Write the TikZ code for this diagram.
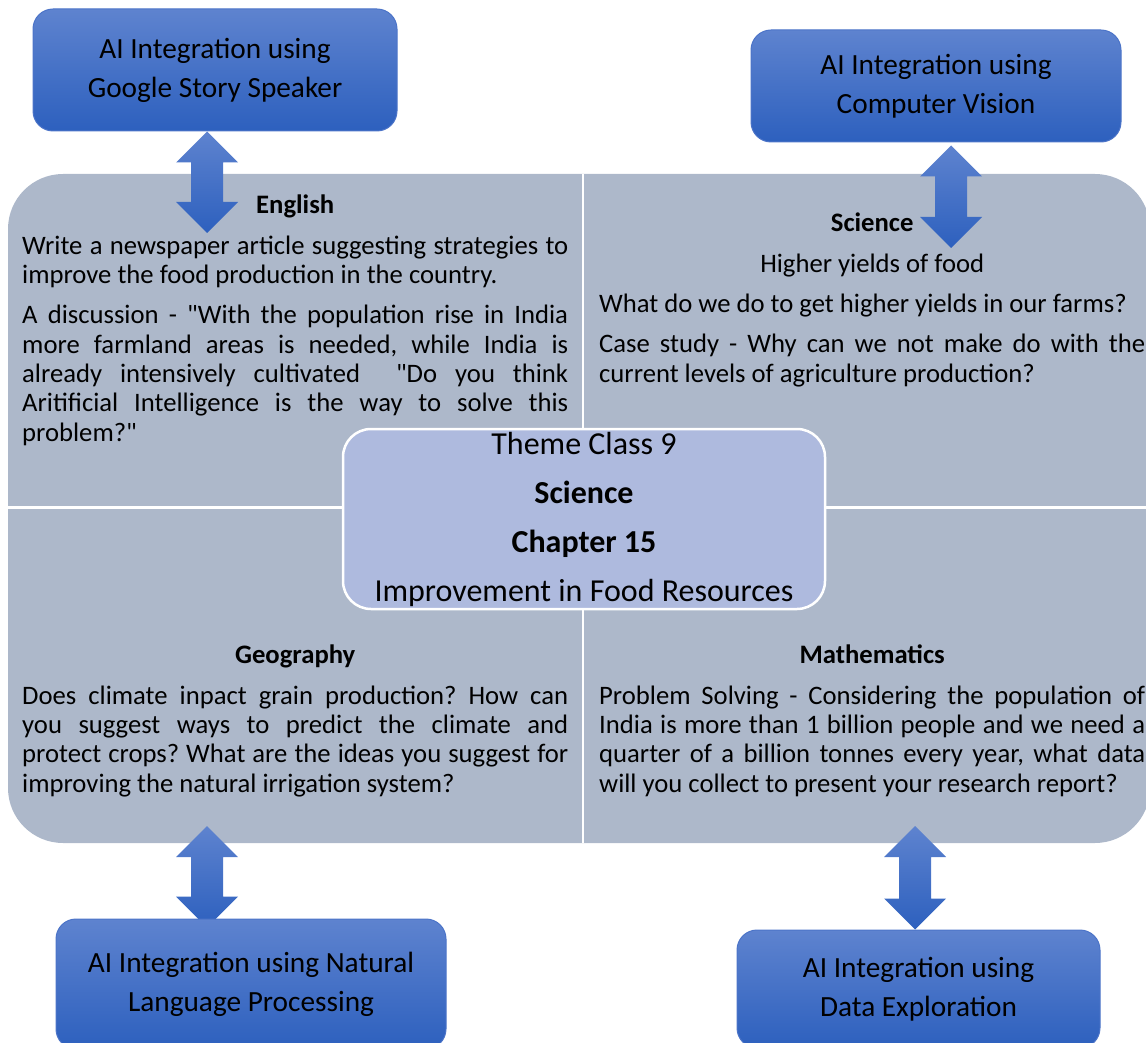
\documentclass[tikz,border=0pt]{standalone}
\usepackage{fontspec}
\setmainfont{Carlito}
\usetikzlibrary{calc}
\pgfdeclarelayer{back}
\pgfsetlayers{back,main}

\definecolor{quadgrey}{RGB}{173,184,202}
\definecolor{themefill}{RGB}{174,186,222}
\definecolor{bluetop}{RGB}{94,131,207}
\definecolor{bluebot}{RGB}{45,96,190}
\definecolor{blueedge}{RGB}{76,116,200}

\newcommand{\subjectsetup}{\fontsize{26.67}{29.3}\selectfont\setlength{\parskip}{11pt}\frenchspacing\tolerance=10000 \hyphenpenalty=10000 }
\newcommand{\heading}[1]{{\centering\textbf{#1}\par}}
\newcommand{\q}{\textquotedbl}

\newcommand{\twowayarrow}[2]{%
  \shade[updown] let \p1=(#1), \p2=(#2) in
    (\x1,\y1) -- (\x1+31pt,\y1-31pt) -- (\x1+16pt,\y1-31pt) -- (\x1+16pt,\y2+31pt)
    -- (\x1+31pt,\y2+31pt) -- (\x1,\y2) -- (\x1-31pt,\y2+31pt) -- (\x1-16pt,\y2+31pt)
    -- (\x1-16pt,\y1-31pt) -- (\x1-31pt,\y1-31pt) -- cycle;}

\tikzset{
  aibox/.style={rectangle, rounded corners=20pt, top color=bluetop, bottom color=bluebot,
    draw=blueedge, line width=1pt, align=center, inner sep=0pt,
    font=\fontsize{29.3}{39}\selectfont},
  theme/.style={rectangle, rounded corners=28pt, fill=themefill, draw=white, line width=2.5pt,
    minimum width=482pt, minimum height=180pt, inner sep=0pt, align=center,
    font=\fontsize{32}{49}\selectfont},
  subject/.style={anchor=north west, text width=546pt, align=justify, inner sep=0pt,
    execute at begin node=\subjectsetup},
  divider/.style={white, line width=2.5pt},
  updown/.style={top color=bluetop, bottom color=bluebot}
}

\begin{document}
\begin{tikzpicture}[x=1pt,y=-1pt]
  \useasboundingbox (0,0) rectangle (1146,1043);
  \clip (0,0) rectangle (1146,1043);

  %AI boxes
  \node[aibox, minimum width=364pt, minimum height=122pt] (storybox) at (215,70)
    {AI Integration using\\Google Story Speaker};
  \node[aibox, minimum width=370pt, minimum height=112pt] (visionbox) at (936,86)
    {AI Integration using\\Computer Vision};
  \node[aibox, minimum width=390pt, minimum height=130pt] (nlpbox) at (251,984)
    {AI Integration using Natural\\Language Processing};
  \node[aibox, minimum width=363pt, minimum height=118pt] (databox) at (918.5,989)
    {AI Integration using\\Data Exploration};

  %Theme in the middle
  \node[theme] (theme) at (584,519)
    {Theme Class 9\\\textbf{Science}\\\textbf{Chapter 15}\\Improvement in Food Resources};

  %Subjects
  \node[subject] (english) at (22,195) {\heading{English}
    Write a newspaper article suggesting strategies to\linebreak improve the food production in the country.\par
    A discussion - \q With the population rise in India\linebreak more farmland areas is needed, while India is\linebreak
    already intensively cultivated \ \q Do you think\linebreak Aritificial Intelligence is the way to solve this\linebreak problem?\q};
  \node[subject] (science) at (599,213) {\heading{Science}
    {\centering Higher yields of food\par}
    What do we do to get higher yields in our farms?\par
    Case study - Why can we not make do with the\linebreak current levels of agriculture production?};
  \node[subject] (geography) at (22,645) {\heading{Geography}
    Does climate inpact grain production? How can\linebreak you suggest ways to predict the climate and\linebreak
    protect crops? What are the ideas you suggest for\linebreak improving the natural irrigation system?};
  \node[subject] (maths) at (599,645) {\heading{Mathematics}
    Problem Solving - Considering the population of\linebreak India is more than 1 billion people and we need a\linebreak
    quarter of a billion tonnes every year, what data\linebreak will you collect to present your research report?};

  %Arrow tips in the subjects
  \coordinate (engtip) at (207,233);
  \coordinate (scitip) at (951,248);
  \coordinate (geotip) at (207,826);
  \coordinate (mathtip) at (915,826);

  \begin{pgfonlayer}{back}
    \clip (0,0) rectangle (1146,1043);
    %Four subjects
    \fill[quadgrey, rounded corners=55pt] (8,174) rectangle (1150,843);
    \draw[divider] (583,174) -- (583,843);
    \draw[divider] (8,507.5) -- (1150,507.5);

    %Double arrows
    \twowayarrow{storybox.south -| engtip}{engtip}
    \twowayarrow{$(visionbox.south -| scitip)+(0,3)$}{scitip}
    \twowayarrow{geotip}{$(nlpbox.north -| geotip)+(0,9)$}
    \twowayarrow{mathtip}{databox.north -| mathtip}
  \end{pgfonlayer}
\end{tikzpicture}
\end{document}
